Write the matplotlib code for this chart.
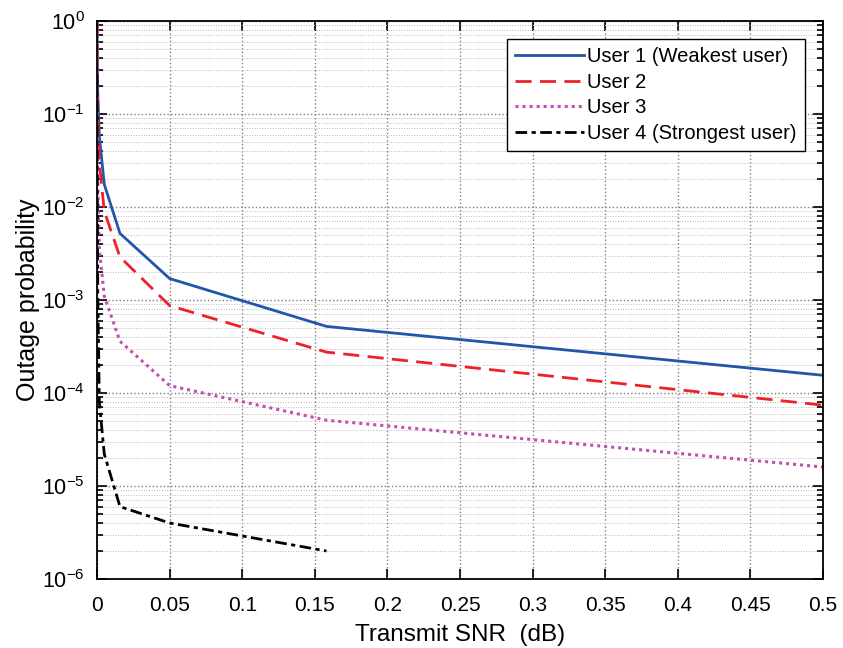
import numpy as np
import matplotlib
matplotlib.use("Agg")
import matplotlib.pyplot as plt
from matplotlib.ticker import LogLocator, NullFormatter, MultipleLocator, FixedLocator

plt.rcParams['font.family'] = ['Liberation Sans', 'DejaVu Sans']
plt.rcParams['mathtext.fontset'] = 'custom'
plt.rcParams['mathtext.rm'] = 'Liberation Sans'

# --- datos ---
snr = [0.00005, 0.000158, 0.0005, 0.00158, 0.005, 0.0158, 0.05, 0.158, 0.5]
user1 = [1.0, 0.5, 0.17, 0.058, 0.0175, 5.2e-3, 1.7e-3, 5.2e-4, 1.55e-4]
user2 = [1.0, 0.33, 0.1, 0.03, 9e-3, 2.9e-3, 8.7e-4, 2.75e-4, 7.4e-5]
user3 = [1.0, 0.12, 0.018, 3.5e-3, 1.1e-3, 3.6e-4, 1.2e-4, 5.1e-5, 1.6e-5]
snr4 = [0.00005, 0.000158, 0.0005, 0.00158, 0.005, 0.0158, 0.05, 0.158]
user4 = [0.26, 0.02, 1.2e-3, 8e-5, 2.2e-5, 6e-6, 4e-6, 2e-6]

labels = ["User 1 (Weakest user)", "User 2", "User 3", "User 4 (Strongest user)"]
y_decades = [-6, -5, -4, -3, -2, -1, 0]

fig = plt.figure(figsize=(8.43, 6.48), dpi=100)
ax = fig.add_axes([0.1151, 0.1065, 0.8612, 0.8611])

lw = 2.0
ax.semilogy(snr, user1, '-', color='#2156a8', lw=lw, label=labels[0])
ax.semilogy(snr, user2, '--', color='#ee2028', lw=lw, dashes=(5.8, 3.0), label=labels[1])
ax.semilogy(snr, user3, ':', color='#c04fb0', lw=lw + 0.2, dashes=(1, 1.3), label=labels[2])
ax.semilogy(snr4, user4, '-.', color='black', lw=lw, dashes=(4.2, 1.6, 1.5, 1.6), label=labels[3])

ax.set_xlim(0, 0.5)
ax.set_ylim(1e-6, 1)
ax.xaxis.set_major_locator(MultipleLocator(0.05))
ax.xaxis.set_major_formatter(plt.FuncFormatter(lambda v, p: ('%g' % round(v, 2))))
ax.yaxis.set_major_locator(FixedLocator([10.0 ** d for d in y_decades]))
ax.set_yticklabels([r'$10^{%d}$' % d for d in y_decades])
ax.yaxis.set_minor_locator(LogLocator(base=10, subs=np.arange(2, 10), numticks=20))
ax.yaxis.set_minor_formatter(NullFormatter())

ax.grid(True, which='major', linestyle=':', color='#808080', lw=1.0)
ax.grid(True, which='minor', axis='y', linestyle=':', color='#b8b8b8', lw=0.7)

ax.tick_params(which='both', direction='in', top=True, right=True, width=1.2)
ax.tick_params(which='major', length=7)
ax.tick_params(which='minor', length=4)
ax.tick_params(axis='x', labelsize=15, pad=12)
ax.tick_params(axis='y', labelsize=15.5, pad=9)
for s in ax.spines.values():
    s.set_linewidth(1.3)

ax.set_xlabel("Transmit SNR  (dB)", fontsize=17.5, labelpad=7)
ax.set_ylabel("Outage probability", fontsize=18, labelpad=1)

leg = ax.legend(loc='upper right', bbox_to_anchor=(0.9745, 0.967), fontsize=14.5,
                fancybox=False, framealpha=1, edgecolor='black', handlelength=3.4,
                handletextpad=0.15, borderpad=0.4, labelspacing=0.32, borderaxespad=0)
leg.get_frame().set_linewidth(1.0)

fig.savefig("out.png", dpi=100)
